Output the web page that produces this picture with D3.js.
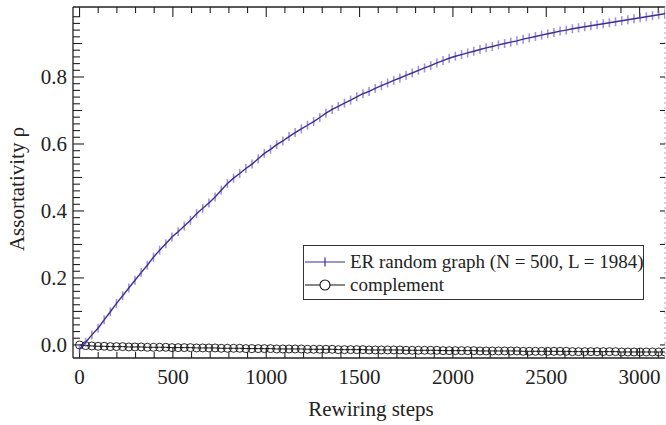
<!DOCTYPE html>
<html><head><meta charset="utf-8"><script src="https://cdn.jsdelivr.net/npm/d3@7"></script></head>
<body style="margin:0">
<svg id="chart" width="666" height="425"></svg>
<script>
// Rewiring step at which each sample was recorded
const steps = [0,33,66,99,132,165,198,231,264,297,330,363,396,429,462,495,528,561,594,627,
  660,693,726,759,792,825,858,891,924,957,990,1023,1056,1089,1122,1155,1188,1221,1254,1287,
  1320,1353,1386,1419,1452,1485,1518,1551,1584,1617,1650,1683,1716,1749,1782,1815,1848,1881,1914,1947,
  1980,2013,2046,2079,2112,2145,2178,2211,2244,2277,2310,2343,2376,2409,2442,2475,2508,2541,2574,2607,
  2640,2673,2706,2739,2772,2805,2838,2871,2904,2937,2970,3003,3036,3069,3102,3135];

// Assortativity of the ER random graph while rewiring
const erValues = [-0.012,0.008,0.030,0.050,0.075,0.099,0.124,0.147,0.170,0.193,0.216,0.238,0.262,0.283,0.302,0.322,0.338,0.355,0.372,0.392,
  0.408,0.424,0.442,0.462,0.482,0.498,0.512,0.527,0.540,0.556,0.572,0.584,0.598,0.609,0.622,0.634,0.645,0.656,0.667,0.679,
  0.692,0.703,0.712,0.722,0.731,0.741,0.750,0.757,0.766,0.774,0.782,0.790,0.797,0.805,0.812,0.820,0.827,0.834,0.842,0.849,
  0.856,0.862,0.867,0.872,0.877,0.882,0.887,0.891,0.896,0.900,0.904,0.908,0.913,0.917,0.921,0.925,0.929,0.933,0.937,0.940,
  0.944,0.947,0.950,0.953,0.956,0.959,0.962,0.965,0.968,0.971,0.974,0.977,0.980,0.983,0.986,0.989];

// Assortativity of the complement graph
const complementValues = [0.000,-0.002,-0.003,-0.004,-0.004,-0.005,-0.005,-0.005,-0.006,-0.006,-0.006,-0.007,-0.007,-0.007,-0.007,-0.008,-0.008,-0.008,-0.008,-0.009,
  -0.009,-0.009,-0.009,-0.010,-0.010,-0.010,-0.010,-0.011,-0.011,-0.011,-0.011,-0.011,-0.012,-0.012,-0.012,-0.012,-0.012,-0.013,-0.013,-0.013,
  -0.013,-0.013,-0.014,-0.014,-0.014,-0.014,-0.014,-0.015,-0.015,-0.015,-0.015,-0.015,-0.015,-0.016,-0.016,-0.016,-0.016,-0.016,-0.016,-0.017,
  -0.017,-0.017,-0.017,-0.017,-0.017,-0.018,-0.018,-0.018,-0.018,-0.018,-0.018,-0.018,-0.019,-0.019,-0.019,-0.019,-0.019,-0.019,-0.019,-0.019,
  -0.020,-0.020,-0.020,-0.020,-0.020,-0.020,-0.020,-0.020,-0.021,-0.021,-0.021,-0.021,-0.021,-0.021,-0.021,-0.021];

const xMajorTicks = [0, 500, 1000, 1500, 2000, 2500, 3000];
const yMajorTicks = [0.0, 0.2, 0.4, 0.6, 0.8];
const seriesNames = ["ER random graph (N = 500, L = 1984)", "complement"];

const serifStack = '"Liberation Serif", Tinos, "Times New Roman", serif';
const svg = d3.select("#chart").style("display", "block").style("font-family", serifStack);
const pLeft = 73, pRight = 665, pTop = 7, pBottom = 358;

const x = d3.scaleLinear().domain([-35, 3136]).range([pLeft, pRight]);
const y = d3.scaleLinear().domain([-0.039, 1.009]).range([pBottom, pTop]);

const ink = "#222";
const erLine = "#3b2e95";
const erMark = "rgba(112,94,200,0.65)";

// Minor and medium ticks
const xMinor = d3.range(0, 3101, 100);
const yMinor = d3.range(0, 50).map(i => +(i * 0.02).toFixed(2));

// helper for serif labels
function label(sel) {
  return sel.style("font-family", serifStack).attr("font-family", "Liberation Serif").attr("fill", ink);
}

const axes = svg.append("g");

// frame: solid left/bottom/top, dotted right
axes.append("line").attr("x1", pLeft).attr("x2", pLeft).attr("y1", pTop).attr("y2", pBottom)
  .attr("stroke", ink).attr("stroke-width", 1.3);
axes.append("line").attr("x1", pLeft).attr("x2", pRight).attr("y1", pBottom).attr("y2", pBottom)
  .attr("stroke", ink).attr("stroke-width", 1.3);
axes.append("line").attr("x1", pLeft).attr("x2", pRight).attr("y1", pTop).attr("y2", pTop)
  .attr("stroke", ink).attr("stroke-width", 1.3);
axes.append("line").attr("x1", pRight).attr("x2", pRight).attr("y1", pTop).attr("y2", pBottom)
  .attr("stroke", "#aaa").attr("stroke-width", 1).attr("stroke-dasharray", "2,3");

// x ticks, bottom (pointing up) and top (pointing down)
xMinor.forEach(v => {
  const major = xMajorTicks.includes(v);
  const len = major ? 10 : 6;
  axes.append("line").attr("x1", x(v)).attr("x2", x(v)).attr("y1", pBottom).attr("y2", pBottom - len)
    .attr("stroke", ink).attr("stroke-width", 1.1);
  axes.append("line").attr("x1", x(v)).attr("x2", x(v)).attr("y1", pTop).attr("y2", pTop + len)
    .attr("stroke", ink).attr("stroke-width", 1.1);
});

// y ticks on the left
yMinor.forEach(v => {
  const major = yMajorTicks.some(t => Math.abs(t - v) < 1e-9);
  const mid = Math.abs(v * 10 - Math.round(v * 10)) < 1e-6;
  const len = major ? 11 : (mid ? 9 : 7);
  axes.append("line").attr("x1", pLeft).attr("x2", pLeft + len).attr("y1", y(v)).attr("y2", y(v))
    .attr("stroke", ink).attr("stroke-width", 1.1);
});

// y ticks on the right edge, every 0.1
d3.range(0, 10).forEach(i => {
  const v = i / 10;
  axes.append("line").attr("x1", pRight).attr("x2", pRight - 5).attr("y1", y(v)).attr("y2", y(v))
    .attr("stroke", ink).attr("stroke-width", 1.1);
});

// tick labels
label(axes.selectAll("text.xl").data(xMajorTicks).join("text"))
  .attr("x", d => x(d)).attr("y", 384).attr("text-anchor", "middle")
  .attr("font-size", 21).text(d => d);
label(axes.selectAll("text.yl").data(yMajorTicks).join("text"))
  .attr("x", 67).attr("y", d => y(d)).attr("dy", "0.34em").attr("text-anchor", "end")
  .attr("font-size", 21).text(d => d.toFixed(1));

// axis titles
label(svg.append("text")).attr("x", 371).attr("y", 416).attr("text-anchor", "middle")
  .attr("font-size", 21).text("Rewiring steps");
label(svg.append("text")).attr("transform", "translate(24,189) rotate(-90)")
  .attr("text-anchor", "middle").attr("font-size", 21).text("Assortativity ρ");

// data
svg.append("clipPath").attr("id", "plotclip").append("rect")
  .attr("x", pLeft).attr("y", pTop - 2).attr("width", pRight - pLeft).attr("height", pBottom - pTop + 4);
const plot = svg.append("g").attr("clip-path", "url(#plotclip)");

const compData = steps.map((s, i) => [s, complementValues[i]]);
const erData = steps.map((s, i) => [s, erValues[i]]);
const line = d3.line().x(d => x(d[0])).y(d => y(d[1]));

plot.append("path").datum(compData).attr("d", line)
  .attr("fill", "none").attr("stroke", "#111").attr("stroke-width", 1);
plot.selectAll("circle.comp").data(compData).join("circle")
  .attr("cx", d => x(d[0])).attr("cy", d => y(d[1])).attr("r", 4)
  .attr("fill", "none").attr("stroke", "#111").attr("stroke-width", 0.9);

plot.selectAll("line.er").data(erData).join("line")
  .attr("x1", d => x(d[0])).attr("x2", d => x(d[0]))
  .attr("y1", d => y(d[1]) - 4.5).attr("y2", d => y(d[1]) + 4.5)
  .attr("stroke", erMark).attr("stroke-width", 1.6);
plot.append("path").datum(erData).attr("d", line)
  .attr("fill", "none").attr("stroke", erLine).attr("stroke-width", 1.4);

// legend
const lg = svg.append("g");
lg.append("rect").attr("x", 303.5).attr("y", 245.5).attr("width", 340).attr("height", 54)
  .attr("fill", "#fff").attr("stroke", "#333").attr("stroke-width", 1);
const rows = [262, 285];
lg.append("line").attr("x1", 305).attr("x2", 345).attr("y1", rows[0]).attr("y2", rows[0])
  .attr("stroke", erLine).attr("stroke-width", 1.2);
lg.append("line").attr("x1", 325).attr("x2", 325).attr("y1", rows[0] - 4.5).attr("y2", rows[0] + 4.5)
  .attr("stroke", erLine).attr("stroke-width", 1.2);
lg.append("line").attr("x1", 305).attr("x2", 345).attr("y1", rows[1]).attr("y2", rows[1])
  .attr("stroke", "#111").attr("stroke-width", 1.2);
lg.append("circle").attr("cx", 325).attr("cy", rows[1]).attr("r", 5)
  .attr("fill", "#fff").attr("stroke", "#111").attr("stroke-width", 1.1);
label(lg.selectAll("text.lt").data(seriesNames).join("text"))
  .attr("x", 350).attr("y", (d, i) => rows[i]).attr("dy", "0.33em")
  .attr("font-size", 19).text(d => d);
</script>
</body></html>
